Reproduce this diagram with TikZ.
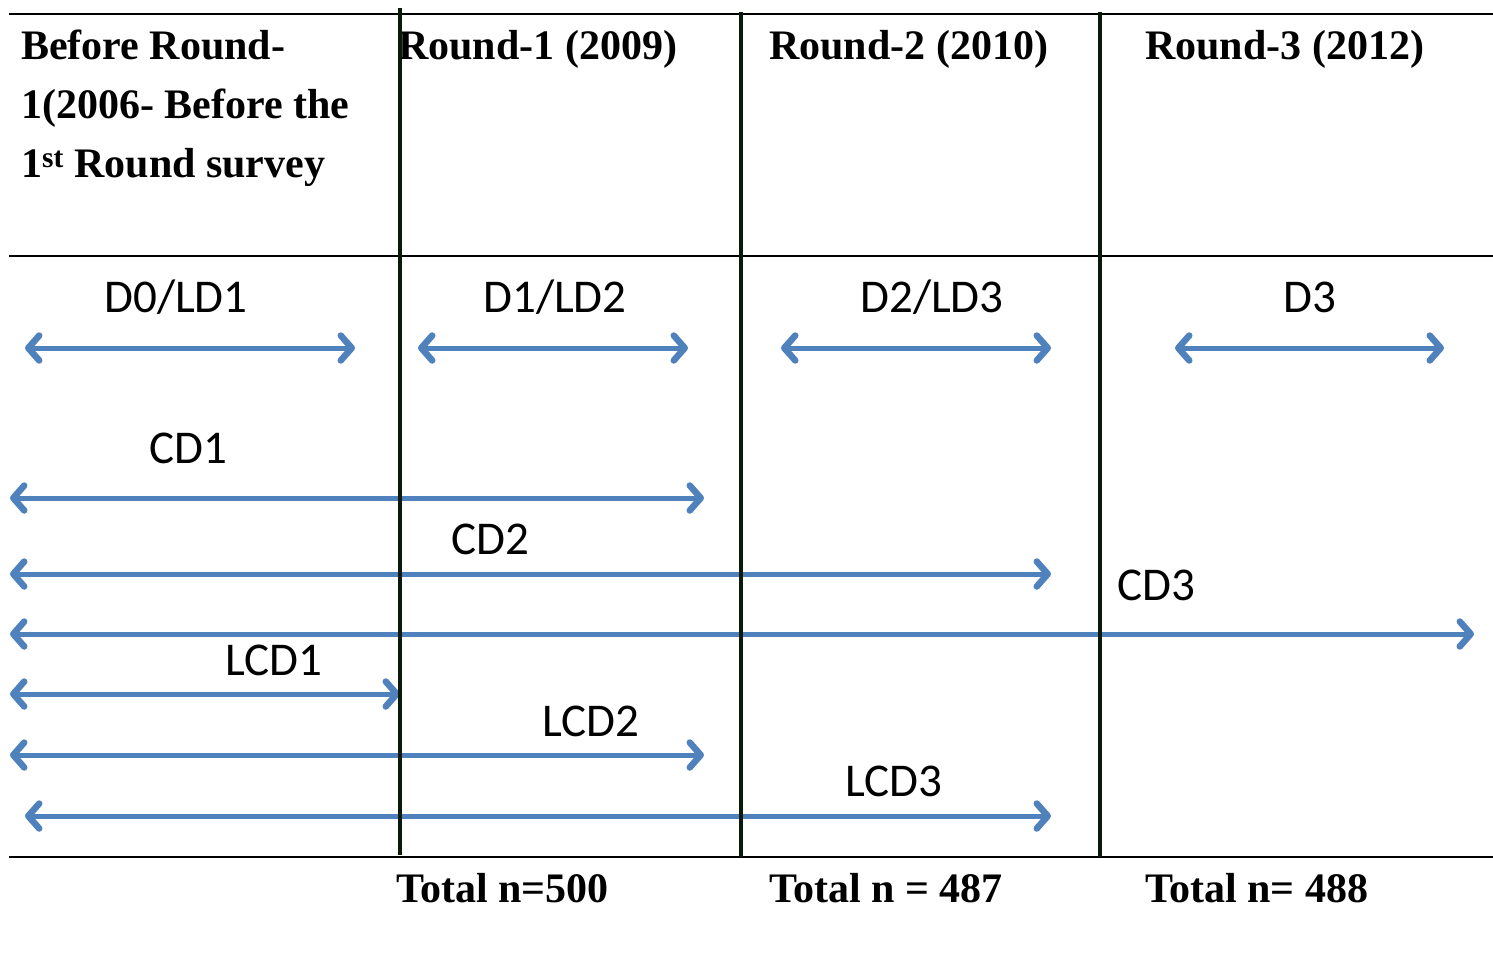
\documentclass[tikz,border=0pt]{standalone}
\usepackage{fontspec}
\setmainfont{Liberation Serif}
\newfontfamily\lblfont{Carlito}
\usetikzlibrary{arrows.meta}
\definecolor{arrowblue}{HTML}{4F81BD}
\definecolor{divider}{HTML}{0A1A0A}
\tikzset{
  hdr/.style={anchor=base west, inner sep=0pt, font=\fontsize{42}{59}\selectfont\bfseries},
  lbl/.style={anchor=base, inner sep=0pt, font=\lblfont\fontsize{47}{55}\selectfont},
  rule/.style={line width=2pt, black},
  divline/.style={line width=4.5pt, divider},
  barb/.tip={Straight Barb[length=11pt,width=25pt,line width=1.5pt 1,line cap=round,line join=round]},
  span/.style={line width=5pt, arrowblue, line cap=round, barb-barb},
}
\begin{document}
\begin{tikzpicture}[x=1pt,y=-1pt]
\useasboundingbox (0,0) rectangle (1493,964);
% horizontal rules
\coordinate (t0) at (9,14);   \coordinate (t1) at (1493,14);
\coordinate (m0) at (9,256);  \coordinate (m1) at (1493,256);
\coordinate (b0) at (9,857);  \coordinate (b1) at (1493,857);
\draw[rule] (t0) -- (t1);
\draw[rule] (m0) -- (m1);
\draw[rule] (b0) -- (b1);
% header texts
\node[hdr] (h0a) at (21,59) {Before Round-};
\node[hdr] (h0b) at (21,118) {1(2006- Before the};
\node[hdr] (h0c) at (21,177) {1\textsuperscript{st} Round survey};
\node[hdr] (h1) at (398,59) {Round-1 (2009)};
\node[hdr] (h2) at (769,59) {Round-2 (2010)};
\node[hdr] (h3) at (1145,59) {Round-3 (2012)};
% totals
\node[hdr] (n1) at (396,902) {Total n=500};
\node[hdr] (n2) at (769,902) {Total n = 487};
\node[hdr] (n3) at (1145,902) {Total n= 488};
% labels
\node[lbl] (lD0) at (176,312) {D0/LD1};
\node[lbl] (lD1) at (555,312) {D1/LD2};
\node[lbl] (lD2) at (932,312) {D2/LD3};
\node[lbl] (lD3) at (1310,312) {D3};
\node[lbl] (lCD1) at (188,463) {CD1};
\node[lbl] (lCD2) at (490,554) {CD2};
\node[lbl] (lCD3) at (1156,600) {CD3};
\node[lbl] (lLCD1) at (274,675) {LCD1};
\node[lbl] (lLCD2) at (591,736) {LCD2};
\node[lbl] (lLCD3) at (894,796) {LCD3};
% arrows
\coordinate (a0s) at (25,348);   \coordinate (a0e) at (355,348);
\coordinate (a1s) at (418,348);  \coordinate (a1e) at (688,348);
\coordinate (a2s) at (781,348);  \coordinate (a2e) at (1051,348);
\coordinate (a3s) at (1175,348); \coordinate (a3e) at (1444,348);
\coordinate (c1s) at (10,498);   \coordinate (c1e) at (704,498);
\coordinate (c2s) at (10,574);   \coordinate (c2e) at (1051,574);
\coordinate (c3s) at (10,634);   \coordinate (c3e) at (1474,634);
\coordinate (l1s) at (10,694);   \coordinate (l1e) at (400,694);
\coordinate (l2s) at (10,755);   \coordinate (l2e) at (704,755);
\coordinate (l3s) at (25,816);   \coordinate (l3e) at (1051,816);
\foreach \s/\e in {a0s/a0e,a1s/a1e,a2s/a2e,a3s/a3e,c1s/c1e,c2s/c2e,c3s/c3e,l1s/l1e,l2s/l2e,l3s/l3e}
  \draw[span] (\s) -- (\e);
% vertical dividers
\coordinate (v1t) at (400,8);   \coordinate (v1b) at (400,855);
\coordinate (v2t) at (741,12);  \coordinate (v2b) at (741,857);
\coordinate (v3t) at (1100,12); \coordinate (v3b) at (1100,857);
\draw[divline] (v1t) -- (v1b);
\draw[divline] (v2t) -- (v2b);
\draw[divline] (v3t) -- (v3b);
\end{tikzpicture}
\end{document}
